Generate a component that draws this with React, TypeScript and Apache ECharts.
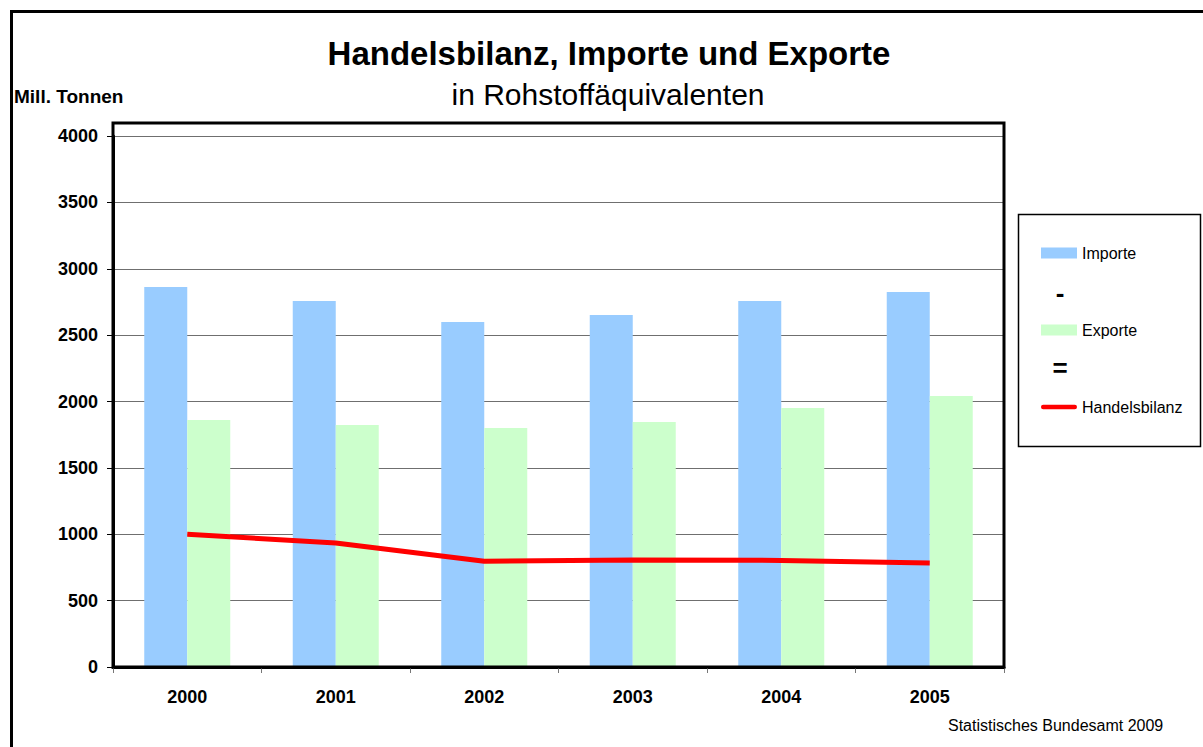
import React, { useEffect, useRef } from "react";
import * as echarts from "echarts";

const categories = ["2000", "2001", "2002", "2003", "2004", "2005"];
const importe = [2862, 2757, 2599, 2652, 2757, 2825];
const exporte = [1861, 1823, 1800, 1846, 1951, 2041];
const handelsbilanz = [1000, 934, 796, 806, 803, 783];
const yMin = 0;
const yMax = 4000;
const yInterval = 500;

const FONT = "'Liberation Sans', Arial, Helvetica, sans-serif";

export default function App() {
  const ref = useRef<HTMLDivElement>(null);

  useEffect(() => {
    if (!ref.current) return;
    const chart = echarts.init(ref.current, null, { renderer: "svg" });
    chart.setOption({
      animation: false,
      backgroundColor: "#ffffff",
      textStyle: { fontFamily: FONT },
      title: [
        {
          text: "Handelsbilanz, Importe und Exporte",
          left: 609,
          top: 37,
          padding: 0,
          textAlign: "center",
          textStyle: { fontFamily: FONT, fontSize: 33, fontWeight: "bold", color: "#000" },
        },
        {
          text: "in Rohstoffäquivalenten",
          left: 608,
          top: 79,
          padding: 0,
          textAlign: "center",
          textStyle: { fontFamily: FONT, fontSize: 30, fontWeight: "normal", color: "#000" },
        },
        {
          text: "Mill. Tonnen",
          left: 14,
          top: 87,
          padding: 0,
          textStyle: { fontFamily: FONT, fontSize: 19, fontWeight: "bold", color: "#000" },
        },
        {
          text: "Statistisches Bundesamt 2009",
          left: 948,
          top: 717,
          padding: 0,
          textStyle: { fontFamily: FONT, fontSize: 16, fontWeight: "normal", color: "#000" },
        },
      ],
      legend: {
        orient: "vertical",
        left: 1036,
        top: 240,
        itemWidth: 36,
        itemHeight: 11,
        itemGap: 61,
        textStyle: { fontFamily: FONT, fontSize: 16, color: "#000" },
        data: [
          { name: "Importe", icon: "rect" },
          { name: "Exporte", icon: "rect" },
          { name: "Handelsbilanz", icon: "path://M2,0H38A2,2 0 0 1 38,5H2A2,2 0 0 1 2,0Z" },
        ],
      },
      grid: { left: 113, right: 199, top: 136, bottom: 80, containLabel: false },
      xAxis: {
        type: "category",
        data: categories,
        boundaryGap: true,
        axisLine: { show: true, lineStyle: { color: "#000", width: 3 } },
        axisTick: { show: true, length: 6, lineStyle: { color: "#777", width: 1 } },
        axisLabel: {
          fontFamily: FONT,
          fontSize: 18,
          fontWeight: "bold",
          color: "#000",
          margin: 21,
        },
        splitLine: { show: false },
      },
      yAxis: {
        type: "value",
        min: yMin,
        max: yMax,
        interval: yInterval,
        axisLine: { show: true, lineStyle: { color: "#000", width: 3 } },
        axisTick: { show: true, length: 6, lineStyle: { color: "#000", width: 1 } },
        axisLabel: {
          fontFamily: FONT,
          fontSize: 18,
          fontWeight: "bold",
          color: "#000",
          margin: 15,
          formatter: (v: number) => String(v),
        },
        splitLine: { show: true, lineStyle: { color: "#6f6f6f", width: 1 } },
      },
      series: [
        {
          name: "Importe",
          type: "bar",
          data: importe,
          barWidth: 43,
          barGap: "0%",
          itemStyle: { color: "#99CCFF" },
          z: 2,
        },
        {
          name: "Exporte",
          type: "bar",
          data: exporte,
          barWidth: 43,
          barGap: "0%",
          itemStyle: { color: "#CCFFCC" },
          z: 2,
        },
        {
          name: "Handelsbilanz",
          type: "line",
          data: handelsbilanz,
          symbol: "none",
          showSymbol: false,
          lineStyle: { color: "#FF0000", width: 5 },
          itemStyle: { color: "#FF0000" },
          z: 5,
        },
      ],
      graphic: [
        {
          type: "rect",
          silent: true,
          z: 100,
          shape: { x: 11.5, y: 11.5, width: 1300, height: 900 },
          style: { fill: "none", stroke: "#000", lineWidth: 3 },
        },
        {
          type: "rect",
          silent: true,
          z: 100,
          shape: { x: 113, y: 123, width: 891, height: 544 },
          style: { fill: "none", stroke: "#000", lineWidth: 3 },
        },
        {
          type: "rect",
          silent: true,
          z: 100,
          shape: { x: 1018.5, y: 214.5, width: 182, height: 232 },
          style: { fill: "none", stroke: "#000", lineWidth: 1.5 },
        },
        {
          type: "text",
          silent: true,
          z: 100,
          x: 1060,
          y: 293,
          style: {
            text: "-",
            font: `bold 26px ${FONT}`,
            fill: "#000",
            textAlign: "center",
            textVerticalAlign: "middle",
          },
        },
        {
          type: "text",
          silent: true,
          z: 100,
          x: 1060,
          y: 368,
          style: {
            text: "=",
            font: `bold 26px ${FONT}`,
            fill: "#000",
            textAlign: "center",
            textVerticalAlign: "middle",
          },
        },
      ],
    });
    return () => chart.dispose();
  }, []);

  return (
    <div
      ref={ref}
      style={{ position: "fixed", left: 0, top: 0, width: 1203, height: 747, background: "#fff" }}
    />
  );
}
